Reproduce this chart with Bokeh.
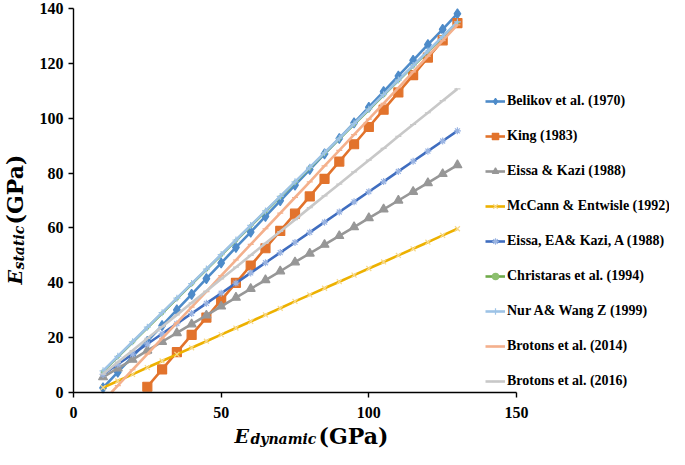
from bokeh.plotting import figure
from bokeh.models import (Legend, LegendItem, FixedTicker, Range1d, Label,
                          ColumnDataSource)
from bokeh.embed import file_html
from bokeh.resources import INLINE
import math

# ---------------- data ----------------
e_dyn = [10, 15, 20, 25, 30, 35, 40, 45, 50, 55, 60, 65, 70, 75, 80, 85,
         90, 95, 100, 105, 110, 115, 120, 125, 130]
e_dyn_king = [25, 30, 35, 40, 45, 50, 55, 60, 65, 70, 75, 80, 85, 90, 95,
              100, 105, 110, 115, 120, 125, 130]
e_dyn_b14 = [12.8, 15, 20, 25, 30, 35, 40, 45, 50, 55, 60, 65, 70, 75, 80, 85,
             90, 95, 100, 105, 110, 115, 120, 125, 130]

belikov = [1.7, 7.4, 13.1, 18.7, 24.4, 30.1, 35.8, 41.5, 47.2, 52.9, 58.5,
           64.2, 69.9, 75.6, 81.3, 87.0, 92.6, 98.3, 104.0, 109.7, 115.4,
           121.1, 126.8, 132.4, 138.1]
king = [2.1, 8.4, 14.7, 21.0, 27.3, 33.7, 40.0, 46.3, 52.6, 58.9, 65.2,
        71.5, 77.9, 84.2, 90.5, 96.8, 103.1, 109.4, 115.7, 122.1, 128.4, 134.7]
eissa_kazi = [5.6, 8.8, 12.0, 15.3, 18.5, 21.7, 24.9, 28.1, 31.4, 34.6, 37.8,
              41.0, 44.2, 47.5, 50.7, 53.9, 57.1, 60.3, 63.6, 66.8, 70.0, 73.2,
              76.4, 79.7, 82.9]
mccann = [1.8, 4.2, 6.6, 9.1, 11.5, 13.9, 16.3, 18.7, 21.1, 23.5, 25.9, 28.3,
          30.7, 33.2, 35.6, 38.0, 40.4, 42.8, 45.2, 47.6, 50.0, 52.4, 54.8,
          57.3, 59.7]
eissa_ea = [6.6, 10.3, 14.0, 17.7, 21.4, 25.1, 28.8, 32.5, 36.2, 39.9, 43.6,
            47.3, 51.0, 54.7, 58.4, 62.1, 65.8, 69.5, 73.2, 76.9, 80.6, 84.3,
            88.0, 91.7, 95.4]
christaras = [7.7, 13.0, 18.3, 23.6, 28.9, 34.2, 39.5, 44.8, 50.1, 55.4, 60.7,
              66.0, 71.3, 76.6, 81.9, 87.2, 92.5, 97.8, 103.1, 108.4, 113.7,
              119.0, 124.3, 129.6, 134.9]
nur_wang = [7.9, 13.2, 18.5, 23.8, 29.1, 34.4, 39.7, 45.0, 50.3, 55.6, 60.9,
            66.2, 71.5, 76.8, 82.1, 87.4, 92.7, 98.0, 103.3, 108.6, 113.9,
            119.2, 124.5, 129.8, 135.1]
brotons2014 = [0.0, 2.5, 8.3, 14.0, 19.7, 25.4, 31.1, 36.8, 42.6, 48.3, 54.0,
               59.7, 65.4, 71.1, 76.8, 82.6, 88.3, 94.0, 99.7, 105.4, 111.1,
               116.9, 122.6, 128.3, 134.0]
brotons2016 = [6.7, 11.0, 15.3, 19.7, 24.0, 28.3, 32.7, 37.0, 41.4, 45.7,
               50.0, 54.4, 58.7, 63.0, 67.4, 71.7, 76.0, 80.4, 84.7, 89.0,
               93.4, 97.7, 102.0, 106.4, 110.7]

labels = ["Belikov et al. (1970)", "King (1983)", "Eissa & Kazi (1988)",
          "McCann & Entwisle (1992)", "Eissa, EA& Kazi, A (1988)",
          "Christaras et al. (1994)", "Nur A& Wang Z (1999)",
          "Brotons et al. (2014)", "Brotons et al. (2016)"]
x_ticks = [0, 50, 100, 150]
y_ticks = [0, 20, 40, 60, 80, 100, 120, 140]
x_axis_max = 150
y_axis_max = 140

# ---------------- styles ----------------
series = [
    # x, y, line colour, marker, marker colour, marker size
    (e_dyn, belikov, "#4E8BC9", "diamond", "#4E8BC9", 10),
    (e_dyn_king, king, "#E2732C", "square", "#E2732C", 9),
    (e_dyn, eissa_kazi, "#979797", "triangle", "#979797", 9),
    (e_dyn, mccann, "#EDB100", "x", "#F7D98A", 7),
    (e_dyn, eissa_ea, "#3F6DBF", "asterisk", "#9AB4E2", 7),
    (e_dyn, christaras, "#6FAA4A", "circle", "#8CBF6E", 3),
    (e_dyn, nur_wang, "#9DC3E6", "cross", "#9DC3E6", 7),
    (e_dyn_b14, brotons2014, "#F4B08C", "dash", "#F4B08C", 6),
    (e_dyn, brotons2016, "#C8C8C8", "dash", "#C8C8C8", 6),
]

SERIF = "Liberation Serif, Times New Roman, Times, serif"

# One figure whose frame fills the page; the axes sit at data 0 (fixed_location)
W, H = 669, 449
AX_L, AX_R = 73.0, 516.0      # pixel columns of x = 0 and x = 150
AX_T, AX_B = 8.0, 392.0       # pixel rows of y = 140 and y = 0
kx = (AX_R - AX_L) / x_axis_max
ky = (AX_B - AX_T) / y_axis_max

p = figure(width=W, height=H, output_backend="svg", toolbar_location=None,
           x_range=Range1d(-AX_L / kx, (W - AX_L) / kx),
           y_range=Range1d(-(H - AX_B) / ky, y_axis_max + AX_T / ky),
           min_border=0, min_border_left=0, min_border_right=0,
           min_border_top=0, min_border_bottom=0)
p.outline_line_color = None
p.grid.visible = False

items = []
for (xs, ys, lc, mk, mc, ms), lab_txt in zip(series, labels):
    src = ColumnDataSource(dict(x=xs, y=ys))
    lr = p.line("x", "y", source=src, line_color=lc, line_width=2.6)
    sr = p.scatter("x", "y", source=src, marker=mk, size=ms,
                   fill_color=mc, line_color=mc, line_width=1.2)
    items.append(LegendItem(label=lab_txt, renderers=[lr, sr]))

legend = Legend(items=items, location=(485, 60), padding=0, margin=0,
                spacing=19, glyph_width=20, glyph_height=16, label_height=16,
                label_standoff=2, border_line_alpha=0,
                background_fill_alpha=0,
                label_text_font=SERIF,
                label_text_font_style="bold",
                label_text_font_size="14px",
                label_text_color="black")
p.add_layout(legend, "center")

for ax, ticks in ((p.xaxis, x_ticks), (p.yaxis, y_ticks)):
    ax.ticker = FixedTicker(ticks=ticks)
    ax.fixed_location = 0
    ax.minor_tick_line_color = None
    ax.major_tick_in = 0
    ax.major_tick_out = 5
    ax.axis_line_color = "black"
    ax.axis_line_width = 1.4
    ax.major_tick_line_color = "black"
    ax.major_tick_line_width = 1.4
    ax.major_label_text_font = SERIF
    ax.major_label_text_font_style = "bold"
    ax.major_label_text_font_size = "16px"
    ax.major_label_text_color = "black"
p.xaxis.bounds = (0, x_axis_max)
p.yaxis.bounds = (0, y_axis_max)
p.xaxis.major_label_standoff = 9
p.yaxis.major_label_standoff = 5


def lab(txt, x, y, font, style, size, angle=0.0):
    p.add_layout(Label(x=x, y=y, x_units="screen", y_units="screen",
                       text=txt, text_font=font, text_font_style=style,
                       text_font_size=size, text_color="black",
                       text_align="left", text_baseline="alphabetic",
                       angle=angle))


# x title  (screen units measured from the frame's bottom-left corner)
lab("E", 234, 14, "DejaVu Serif", "bold italic", "19px")
lab("dynamic", 250, 11, "DejaVu Serif", "bold italic", "14px")
lab("(GPa)", 318, 14, "DejaVu Serif", "bold", "22px")
# y title (rotated)
a = math.pi / 2
lab("E", 14, 165, "DejaVu Serif", "bold italic", "19px", a)
lab("static", 18, 180, "DejaVu Serif", "bold italic", "14px", a)
lab("(GPa)", 14, 225, "DejaVu Serif", "bold", "22px", a)

open("out.html", "w").write(file_html(p, INLINE))
